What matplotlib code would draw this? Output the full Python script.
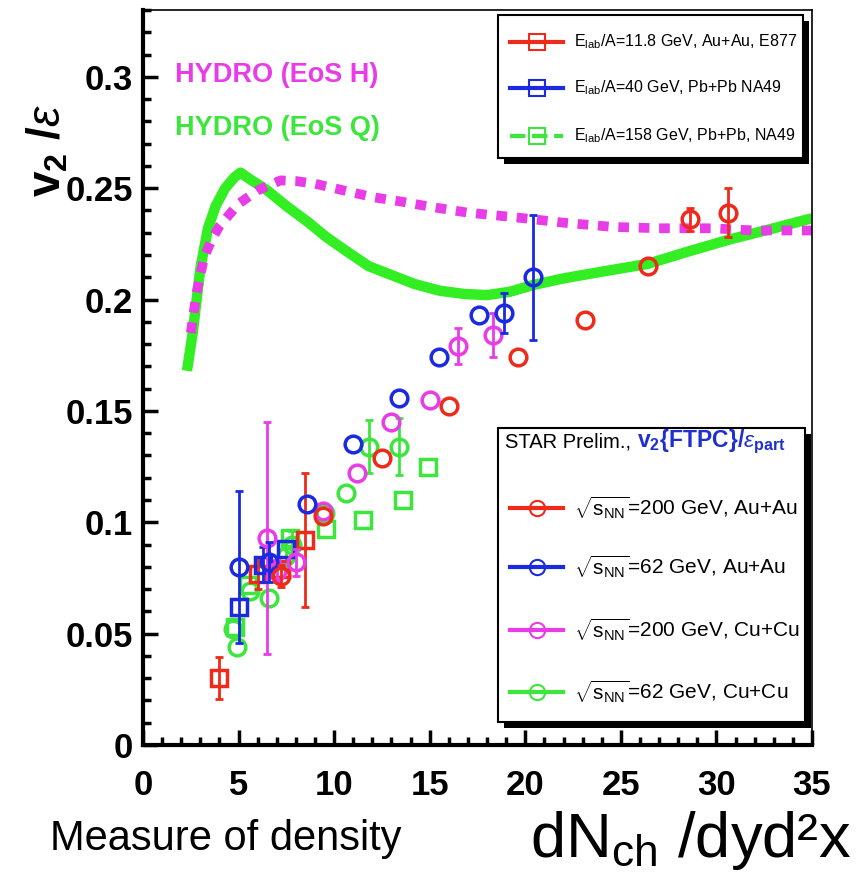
import numpy as np
import matplotlib.pyplot as plt
from matplotlib.patches import Rectangle
from matplotlib.lines import Line2D

plt.rcParams['font.family'] = ['Liberation Sans', 'DejaVu Sans']
plt.rcParams['mathtext.fontset'] = 'custom'
plt.rcParams['mathtext.rm'] = 'Liberation Sans'
plt.rcParams['mathtext.it'] = 'Liberation Sans:italic'
plt.rcParams['mathtext.bf'] = 'Liberation Sans:bold'

# hydro curves
hydro_q_x = [2.3, 2.6, 3.0, 3.4, 3.8, 4.3, 4.8, 5.1, 5.6, 6.5, 7.5, 8.6, 9.6, 10.6, 11.8,
             13.0, 14.2, 15.5, 16.8, 18.0, 19.2, 20.4, 22.0, 24.0, 26.4, 28.5, 30.7, 33.0, 35.0]
hydro_q_y = [0.168, 0.185, 0.214, 0.232, 0.242, 0.250, 0.255, 0.257, 0.254, 0.249, 0.242,
             0.235, 0.228, 0.222, 0.215, 0.211, 0.207, 0.204, 0.2025, 0.202, 0.2035, 0.2065,
             0.2095, 0.2125, 0.216, 0.2215, 0.227, 0.232, 0.2365]
hydro_h_x = [2.5, 2.8, 3.2, 3.6, 4.0, 4.5, 5.0, 5.5, 6.0, 6.5, 7.2, 8.0, 9.0, 10.5, 12.0,
             13.5, 15.0, 17.0, 19.4, 22.0, 24.6, 27.0, 29.8, 32.0, 35.0]
hydro_h_y = [0.185, 0.203, 0.219, 0.227, 0.233, 0.238, 0.243, 0.246, 0.249, 0.251, 0.2535,
             0.2532, 0.252, 0.249, 0.246, 0.244, 0.2417, 0.239, 0.237, 0.2345, 0.2326,
             0.232, 0.232, 0.231, 0.231]

# fixed target (squares)
e877_x = [4.0, 6.0, 7.2, 8.5]
e877_y = [0.030, 0.077, 0.079, 0.092]
e877_e = [0.0095, 0.007, 0.0, 0.030]
na49_40_x = [5.0, 6.3, 7.5]
na49_40_y = [0.062, 0.081, 0.088]
na49_40_e = [0.0, 0.008, 0.0]
na49_158_x = [4.8, 5.5, 7.7, 9.6, 11.5, 13.6, 14.9]
na49_158_y = [0.053, 0.072, 0.093, 0.097, 0.101, 0.110, 0.125]
na49_158_e = [0.0, 0.0, 0.0, 0.0, 0.0, 0.0, 0.0]

# STAR (circles)
auau200_x = [7.2, 9.4, 12.5, 16.0, 19.6, 23.1, 26.4, 28.6, 30.6]
auau200_y = [0.076, 0.103, 0.129, 0.152, 0.174, 0.191, 0.215, 0.236, 0.239]
auau200_e = [0.005, 0.0, 0.0, 0.0, 0.0, 0.0, 0.0, 0.005, 0.011]
auau62_x = [5.0, 6.6, 8.6, 11.0, 13.4, 15.5, 17.6, 18.9, 20.4]
auau62_y = [0.080, 0.082, 0.108, 0.135, 0.156, 0.174, 0.193, 0.194, 0.210]
auau62_e = [0.034, 0.009, 0.0, 0.0, 0.0, 0.0, 0.0, 0.009, 0.028]
cucu200_x = [6.5, 7.0, 8.0, 9.4, 11.2, 13.0, 15.0, 16.5, 18.3]
cucu200_y = [0.093, 0.078, 0.082, 0.105, 0.122, 0.145, 0.155, 0.179, 0.184]
cucu200_e = [0.052, 0.005, 0.006, 0.0, 0.0, 0.0, 0.0, 0.008, 0.010]
cucu62_x = [4.9, 4.7, 5.6, 6.6, 7.5, 7.8, 9.5, 10.6, 11.8, 13.4]
cucu62_y = [0.044, 0.052, 0.069, 0.066, 0.085, 0.090, 0.104, 0.113, 0.134, 0.134]
cucu62_e = [0.0, 0.0, 0.0, 0.0, 0.006, 0.006, 0.0, 0.0, 0.012, 0.013]

RED, BLUE, MAG, GRN = '#ee2a1a', '#1a2ae0', '#e83ce8', '#3ce63c'

fig = plt.figure(figsize=(8.59, 8.75), dpi=100)
ax = fig.add_axes([143/859, 130/875, 669/859, 735/875])

ax.plot(hydro_q_x, hydro_q_y, color='#33ee22', lw=7.5, solid_capstyle='butt', zorder=2)
ax.plot(hydro_h_x, hydro_h_y, color=MAG, lw=7, ls=(0, (1.1, 1.0)), dash_capstyle='butt', zorder=2.5)

def pts(x, y, e, c, m):
    x, y, e = np.array(x), np.array(y), np.array(e)
    k = e > 0
    ax.errorbar(x[k], y[k], yerr=e[k], fmt='none', ecolor=c, elinewidth=2, capsize=3,
                capthick=2, zorder=3)
    ax.plot(x, y, ls='none', marker=m, mfc='none', mec=c, ms=12, mew=2.5, zorder=3)

pts(na49_158_x, na49_158_y, na49_158_e, GRN, 's')
pts(cucu62_x, cucu62_y, cucu62_e, GRN, 'o')
pts(e877_x, e877_y, e877_e, RED, 's')
pts(na49_40_x, na49_40_y, na49_40_e, BLUE, 's')
pts(cucu200_x, cucu200_y, cucu200_e, MAG, 'o')
pts(auau62_x, auau62_y, auau62_e, BLUE, 'o')
pts(auau200_x, auau200_y, auau200_e, RED, 'o')

ax.set_xlim(0, 35)
ax.set_ylim(0, 0.33)
ax.set_xticks(np.arange(0, 36, 5))
ax.set_xticks(np.arange(0, 36, 1), minor=True)
ax.set_yticks([0, 0.05, 0.1, 0.15, 0.2, 0.25, 0.3])
ax.set_yticklabels(['0', '0.05', '0.1', '0.15', '0.2', '0.25', '0.3'])
ax.set_yticks(np.arange(0, 0.331, 0.01), minor=True)
ax.tick_params(which='both', direction='in', top=False, right=False, width=2.5)
ax.tick_params(which='major', length=11)
ax.tick_params(which='minor', length=6)
ax.tick_params(axis='x', which='major', pad=17)
ax.tick_params(axis='y', which='major', pad=7)
for lab in ax.get_xticklabels() + ax.get_yticklabels():
    lab.set_fontsize(25)
    lab.set_fontweight('bold')
ax.spines['left'].set_linewidth(3)
ax.spines['bottom'].set_linewidth(3)
ax.spines['top'].set_linewidth(1.2)
ax.spines['right'].set_linewidth(1.2)

ax.text(1.67, 0.301, 'HYDRO (EoS H)', color=MAG, fontsize=19.5, fontweight='bold', va='center')
ax.text(1.67, 0.277, 'HYDRO (EoS Q)', color=GRN, fontsize=19.5, fontweight='bold', va='center')

def fx(px):
    return px / 859

def fy(py):
    return 1 - py / 875

def box(x0, y0, x1, y1):
    fig.add_artist(Rectangle((fx(x0 + 6), fy(y1 + 6)), fx(x1 - x0), fy(y0) - fy(y1),
                             transform=fig.transFigure, facecolor='black', edgecolor='none', zorder=5))
    fig.add_artist(Rectangle((fx(x0), fy(y1)), fx(x1 - x0), fy(y0) - fy(y1),
                             transform=fig.transFigure, facecolor='white', edgecolor='black',
                             lw=1.5, zorder=6))

def entry(py, c, m, label, size, ls='-'):
    fig.add_artist(Line2D([fx(510), fx(563)], [fy(py), fy(py)], transform=fig.transFigure,
                          color=c, lw=3, ls=ls, zorder=7))
    fig.add_artist(Line2D([fx(537)], [fy(py)], transform=fig.transFigure, marker=m, ms=11,
                          mfc='none', mec=c, mew=1.5, zorder=8))
    fig.text(fx(574), fy(py), label, fontsize=size, va='center', ha='left', zorder=8)

box(498, 15, 803, 158)
entry(42, RED, 's', r'E$_{\mathregular{lab}}$/A=11.8 GeV, Au+Au, E877', 11.5)
entry(88, BLUE, 's', r'E$_{\mathregular{lab}}$/A=40 GeV, Pb+Pb NA49', 11.5)
entry(136, GRN, 's', r'E$_{\mathregular{lab}}$/A=158 GeV, Pb+Pb, NA49', 11.5, ls='--')

box(498, 428, 805, 722)
head = fig.text(fx(505), fy(442), 'STAR Prelim., ', fontsize=14.5, va='center', ha='left', zorder=8)
renderer = fig.canvas.get_renderer()
hx = head.get_window_extent(renderer).x1 / fig.bbox.width
fig.text(hx, fy(442), r'v$_{\mathregular{2}}${FTPC}/$\epsilon_{\mathregular{part}}$',
         color='#2030d0', fontsize=16.5, fontweight='bold', va='center', ha='left', zorder=8)
sq = r'$\sqrt{\mathregular{s}_{\mathregular{NN}}}$'
entry(508, RED, 'o', sq + '=200 GeV, Au+Au', 15)
entry(567, BLUE, 'o', sq + '=62 GeV, Au+Au', 15)
entry(630, MAG, 'o', sq + '=200 GeV, Cu+Cu', 15)
entry(692, GRN, 'o', sq + '=62 GeV, Cu+Cu', 15)

fig.text(fx(48), fy(150), r'v$_{\mathregular{2}}$ /$\epsilon$', rotation=90, fontsize=33,
         fontweight='bold', ha='center', va='center')
fig.text(fx(50), fy(850), 'Measure of density', fontsize=30, va='baseline', ha='left')
fig.text(fx(530), fy(857), r'dN$_{\mathregular{ch}}$ /dyd²x', fontsize=45.5, va='baseline', ha='left')

fig.savefig('out.png', dpi=100)
